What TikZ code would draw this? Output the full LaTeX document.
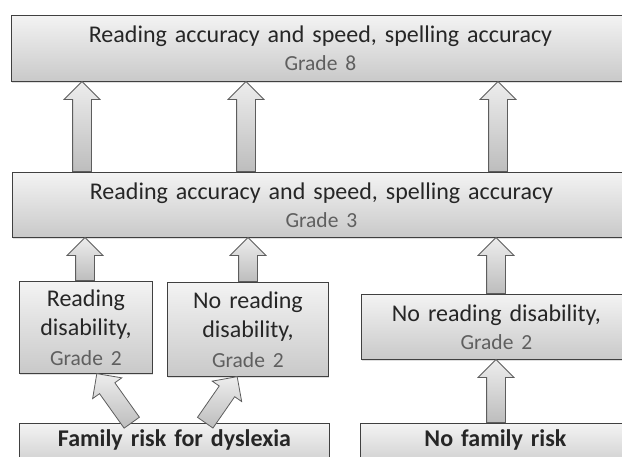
\documentclass[tikz,border=0pt]{standalone}
\usepackage{fontspec}
\setmainfont{Carlito}
\usetikzlibrary{shapes.arrows,shadows,calc}

\definecolor{boxline}{HTML}{404040}
\definecolor{txtmain}{HTML}{262626}
\definecolor{txtgrade}{HTML}{5F5F5F}
\definecolor{shadetop}{HTML}{F3F3F3}
\definecolor{shadebot}{HTML}{C9C9C9}
\definecolor{arrowlight}{HTML}{EDEDED}
\definecolor{arrowdark}{HTML}{BDBDBD}

\newcommand\grade[1]{{\fontsize{21.5}{28}\selectfont\color{txtgrade}#1}}
% text set higher than the centre of its box
\newcommand\lifted[1]{\raisebox{7pt}[\height][\depth]{#1}}

% block arrow from one named point to another
\newcommand\blockarrow[2]{%
  \path let \p1=(#1), \p2=(#2),
        \n1={atan2(\y2-\y1,\x2-\x1)},
        \n2={veclen(\x2-\x1,\y2-\y1)} in
    node[fatarrow, minimum height=\n2, rotate=\n1, anchor=tail] at (\p1) {};}

\tikzset{
  panel/.style={draw=boxline, line width=0.9pt,
    top color=shadetop, bottom color=shadebot,
    anchor=north west, inner sep=0pt, align=center, text=txtmain,
    font=\fontsize{24}{28}\selectfont,
    drop shadow={opacity=0.25, shadow xshift=1pt, shadow yshift=-1.5pt}},
  fatarrow/.style={single arrow, draw=boxline!85, line width=0.8pt,
    inner xsep=0pt, inner ysep=9pt,
    single arrow head extend=8.5pt, single arrow head indent=0pt,
    single arrow tip angle=90,
    top color=arrowlight, bottom color=arrowdark},
}

\begin{document}
\begin{tikzpicture}[x=1pt,y=-1pt]
\useasboundingbox (0,0) rectangle (622,456);
\clip (0,0) rectangle (622,456);

% outcome boxes
\node[panel, text width=618pt, minimum height=66pt] (g8) at (11,15)
  {Reading accuracy and speed, spelling accuracy\\ \grade{Grade 8}};
\node[panel, text width=618pt, minimum height=65pt] (g3) at (12,172)
  {Reading accuracy and speed, spelling accuracy\\ \grade{Grade 3}};

% grade 2 status boxes
\node[panel, text width=133pt, minimum height=92pt,
      font=\fontsize{24}{29.5}\selectfont] (rd) at (19,281)
  {Reading\\ disability,\\ \grade{Grade 2}};
\node[panel, text width=161pt, minimum height=94pt,
      font=\fontsize{24}{29.5}\selectfont] (nrd) at (167,282)
  {No reading\\ disability,\\ \grade{Grade 2}};
\node[panel, text width=270pt, minimum height=65pt] (nrd2) at (361,294)
  {No reading disability,\\ \grade{Grade 2}};

% risk groups (running off the lower edge)
\node[panel, text width=310pt, minimum height=48pt,
      font=\bfseries\fontsize{24}{28}\selectfont] (fam) at (19,423)
  {\lifted{Family risk for dyslexia}};
\node[panel, text width=270pt, minimum height=48pt,
      font=\bfseries\fontsize{24}{28}\selectfont] (nofam) at (360,423)
  {\lifted{No family risk}};

% arrow end points on the box edges
\coordinate (a1s) at (82,0 |- g3.north);  \coordinate (a1e) at (82,0 |- g8.south);
\coordinate (a2s) at (246,0 |- g3.north); \coordinate (a2e) at (246,0 |- g8.south);
\coordinate (a3s) at (498,0 |- g3.north); \coordinate (a3e) at (498,0 |- g8.south);

\coordinate (b1s) at (85,0 |- rd.north);    \coordinate (b1e) at (85,0 |- g3.south);
\coordinate (b2s) at (248,0 |- nrd.north);  \coordinate (b2e) at (248,0 |- g3.south);
\coordinate (b3s) at (496,0 |- nrd2.north); \coordinate (b3e) at (496,0 |- g3.south);

\coordinate (c1s) at (132,0 |- fam.north);   \coordinate (c1e) at (97,0 |- rd.south);
\coordinate (c2s) at (205,0 |- fam.north);   \coordinate (c2e) at (237,0 |- nrd.south);
\coordinate (c3s) at (496,0 |- nofam.north); \coordinate (c3e) at (496,0 |- nrd2.south);

\blockarrow{a1s}{a1e}
\blockarrow{a2s}{a2e}
\blockarrow{a3s}{a3e}
\blockarrow{b1s}{b1e}
\blockarrow{b2s}{b2e}
\blockarrow{b3s}{b3e}
\blockarrow{c1s}{c1e}
\blockarrow{c2s}{c2e}
\blockarrow{c3s}{c3e}
\end{tikzpicture}
\end{document}
